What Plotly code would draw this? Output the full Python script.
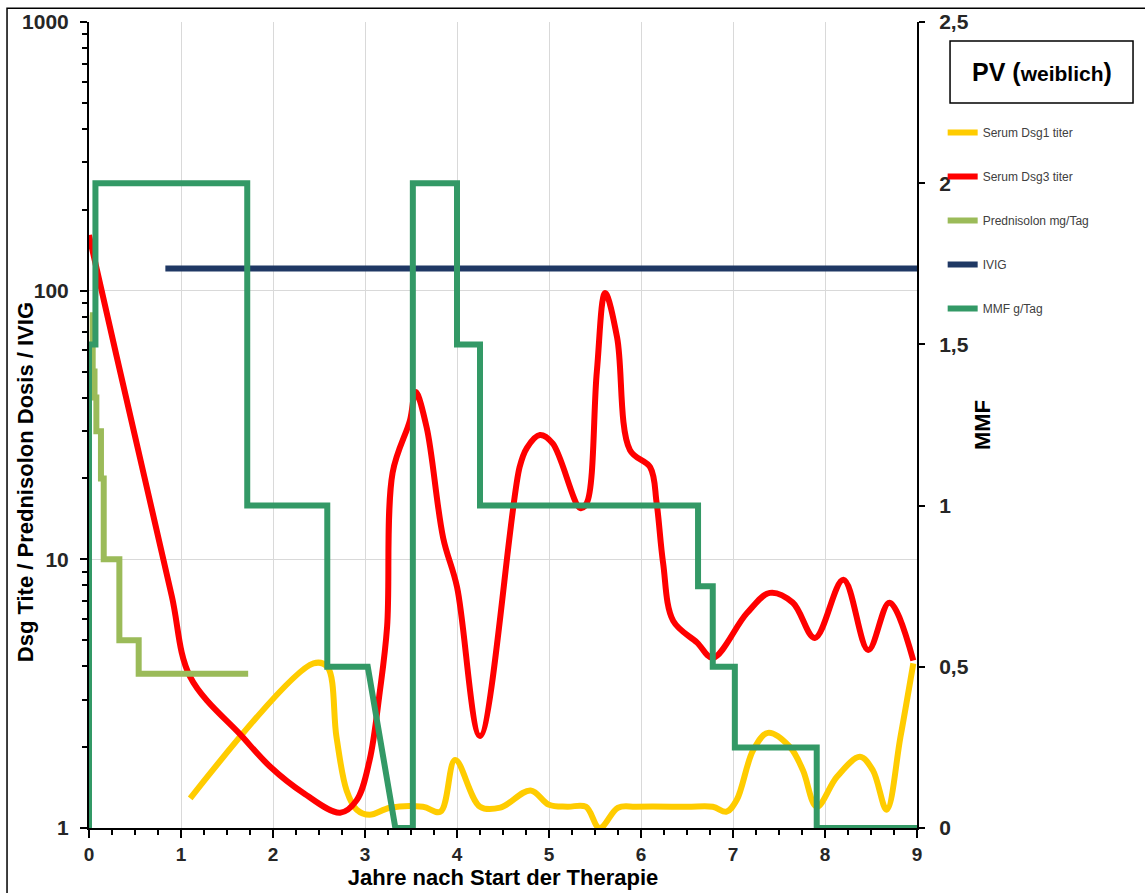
import plotly.graph_objects as go

# ---------------- data ----------------
dsg1_x = [1.1, 2.44, 2.59, 2.69, 2.8, 2.91, 3.05, 3.27, 3.63, 3.82, 3.98, 4.25, 4.47, 4.8, 5.0,
          5.2, 5.4, 5.55, 5.75, 5.95, 6.5, 6.78, 6.93, 7.04, 7.22, 7.38, 7.62, 7.76, 7.91, 8.13,
          8.38, 8.52, 8.67, 8.82, 8.96]
dsg1_y = [1.29, 4.1, 3.98, 2.18, 1.38, 1.17, 1.12, 1.19, 1.2, 1.15, 1.79, 1.2, 1.19, 1.38, 1.22,
          1.2, 1.2, 1.0, 1.19, 1.2, 1.2, 1.2, 1.15, 1.27, 1.95, 2.26, 2.0, 1.64, 1.2, 1.55,
          1.84, 1.64, 1.17, 2.18, 4.1]

dsg3_x = [0, 0.3, 0.6, 0.9, 1.1, 1.67, 1.97, 2.33, 2.73, 2.91, 3.05, 3.16, 3.24, 3.3, 3.49, 3.55,
          3.67, 3.85, 4.0, 4.25, 4.68, 4.76, 4.9, 5.04, 5.34, 5.41, 5.52, 5.61, 5.74, 5.88, 6.1,
          6.17, 6.24, 6.35, 6.61, 6.78, 7.15, 7.4, 7.65, 7.89, 8.2, 8.47, 8.7, 8.96]
dsg3_y = [161, 57, 20.4, 7.3, 3.65, 2.18, 1.69, 1.35, 1.14, 1.27, 1.79, 3.2, 5.6, 21, 33, 42,
          31, 12, 7.9, 2.2, 22, 26, 29, 27, 15.5, 16.2, 50, 98, 67, 25.5, 22,
          16.2, 9.7, 5.9, 4.9, 4.3, 6.3, 7.5, 6.9, 5.1, 8.4, 4.6, 6.9, 4.2]

pred_x = [0.01, 0.04, 0.06, 0.08, 0.13, 0.16, 0.33, 0.54, 1.73]
pred_y = [81, 50, 40, 30, 20, 10, 5, 3.75, 3.75]

ivig_x = [0.83, 9.0]
ivig_y = [121, 121]

mmf_x = [0, 0, 0.07, 0.07, 1.72, 1.72, 2.59, 2.59, 3.03, 3.33, 3.52, 3.52, 4.0, 4.0, 4.25, 4.25,
         6.62, 6.62, 6.78, 6.78, 7.02, 7.02, 7.91, 7.91, 9.0]
mmf_y = [0, 1.5, 1.5, 2, 2, 1, 1, 0.5, 0.5, 0, 0, 2, 2, 1.5, 1.5, 1,
         1, 0.75, 0.75, 0.5, 0.5, 0.25, 0.25, 0, 0]

left_ticks = [1, 10, 100, 1000]
left_minor = [m * d for d in (1, 10, 100) for m in range(2, 10)]
right_ticks = [0, 0.5, 1, 1.5, 2, 2.5]
right_ticktext = ["0", "0,5", "1", "1,5", "2", "2,5"]

FONT = "Liberation Sans, Arial, sans-serif"

fig = go.Figure()
fig.add_trace(go.Scatter(x=dsg1_x, y=dsg1_y, mode="lines", name="Serum Dsg1 titer",
                         line=dict(color="#FFCC00", width=6, shape="spline", smoothing=1.0),
                         legendgroup="a"))
fig.add_trace(go.Scatter(x=dsg3_x, y=dsg3_y, mode="lines", name="Serum Dsg3 titer",
                         line=dict(color="#FF0000", width=6, shape="spline", smoothing=1.0),
                         legendgroup="b"))
fig.add_trace(go.Scatter(x=pred_x, y=pred_y, mode="lines", name="Prednisolon mg/Tag",
                         line=dict(color="#9BBB59", width=6, shape="hv"), legendgroup="c"))
fig.add_trace(go.Scatter(x=ivig_x, y=ivig_y, mode="lines", name="IVIG",
                         line=dict(color="#1F3864", width=6), legendgroup="d"))
fig.add_trace(go.Scatter(x=mmf_x, y=mmf_y, mode="lines", name="MMF g/Tag", yaxis="y2",
                         line=dict(color="#339966", width=6), legendgroup="e"))

tickf = dict(family=FONT, size=21, color="#262626", weight="bold")

fig.update_layout(
    width=1145, height=893,
    margin=dict(l=89, r=228, t=22, b=65, autoexpand=False),
    paper_bgcolor="white", plot_bgcolor="white",
    font=dict(family=FONT),
    xaxis=dict(range=[0, 9], tick0=0, dtick=1, showgrid=True, gridcolor="#d9d9d9", gridwidth=1,
               zeroline=False, showline=True, linecolor="black", linewidth=2,
               ticks="outside", ticklen=8, tickwidth=2, tickcolor="black",
               minor=dict(dtick=0.25, ticks="outside", ticklen=5, tickwidth=1.5,
                          tickcolor="black", showgrid=False),
               tickfont=dict(family=FONT, size=19, color="#262626", weight="bold"),
               title=dict(text="<b>Jahre nach Start der Therapie</b>",
                          font=dict(family=FONT, size=22, color="black"), standoff=6)),
    yaxis=dict(type="log", range=[0, 3], tickvals=left_ticks,
               ticktext=[str(v) for v in left_ticks],
               showgrid=True, gridcolor="#d9d9d9", gridwidth=1, zeroline=False,
               showline=True, linecolor="black", linewidth=2,
               ticks="outside", ticklen=7, tickwidth=2, tickcolor="black",
               minor=dict(tickvals=left_minor, ticks="outside", ticklen=5, tickwidth=1.5,
                          tickcolor="black", showgrid=False),
               tickfont=tickf, ticklabelstandoff=7),
    yaxis2=dict(overlaying="y", side="right", anchor="x", range=[0, 2.5],
                tickvals=right_ticks, ticktext=right_ticktext,
                showgrid=False, zeroline=False, showline=True, linecolor="black", linewidth=2,
                ticks="outside", ticklen=6, tickwidth=2, tickcolor="black",
                tickfont=tickf, ticklabelstandoff=10,
                title=dict(text="<b>MMF</b>", font=dict(family=FONT, size=22, color="black"),
                           standoff=7)),
    # overlay axes that supply the inner half of the crossing tick marks
    xaxis2=dict(overlaying="x", anchor="y", side="bottom", range=[0, 9], tick0=0, dtick=1,
                ticks="inside", ticklen=6, tickwidth=2, tickcolor="black",
                showticklabels=False, showgrid=False, zeroline=False, showline=False),
    yaxis3=dict(overlaying="y", anchor="x", side="left", type="log", range=[0, 3],
                tickvals=left_ticks, ticks="inside", ticklen=6, tickwidth=2, tickcolor="black",
                minor=dict(tickvals=left_minor, ticks="inside", ticklen=4, tickwidth=1.5,
                           tickcolor="black", showgrid=False),
                showticklabels=False, showgrid=False, zeroline=False, showline=False),
    yaxis4=dict(overlaying="y", anchor="x", side="right", range=[0, 2.5], tickvals=right_ticks,
                ticks="inside", ticklen=6, tickwidth=2, tickcolor="black",
                showticklabels=False, showgrid=False, zeroline=False, showline=False),
    legend=dict(x=1.031, y=0.881, xanchor="left", yanchor="top",
                font=dict(family=FONT, size=12, color="#404040"),
                tracegroupgap=25, bgcolor="rgba(0,0,0,0)", borderwidth=0),
    showlegend=True,
)

# left axis title (placed as annotation so it can sit close to the frame)
fig.add_annotation(xref="paper", yref="paper", x=-0.0773, y=0.429, xanchor="center",
                   yanchor="middle", textangle=-90, showarrow=False,
                   text="<b>Dsg Tite / Prednisolon Dosis / IVIG</b>",
                   font=dict(family=FONT, size=22, color="black"))
# title box
fig.add_shape(type="rect", xref="paper", yref="paper", x0=1.0399, x1=1.2609, y0=0.8995,
              y1=0.9764, line=dict(color="black", width=1.5), fillcolor="white", layer="below")
fig.add_annotation(xref="paper", yref="paper", x=1.1504, y=0.938, xanchor="center",
                   yanchor="middle", showarrow=False,
                   text="<b>PV (<span style='font-size:21px'>weiblich</span>)</b>",
                   font=dict(family=FONT, size=25, color="black"))
# outer chart frame
fig.add_shape(type="rect", xref="paper", yref="paper", x0=-0.099, x1=1.3, y0=-0.095, y1=1.017,
              line=dict(color="black", width=1.5), layer="below")

fig.write_html("out.html")
